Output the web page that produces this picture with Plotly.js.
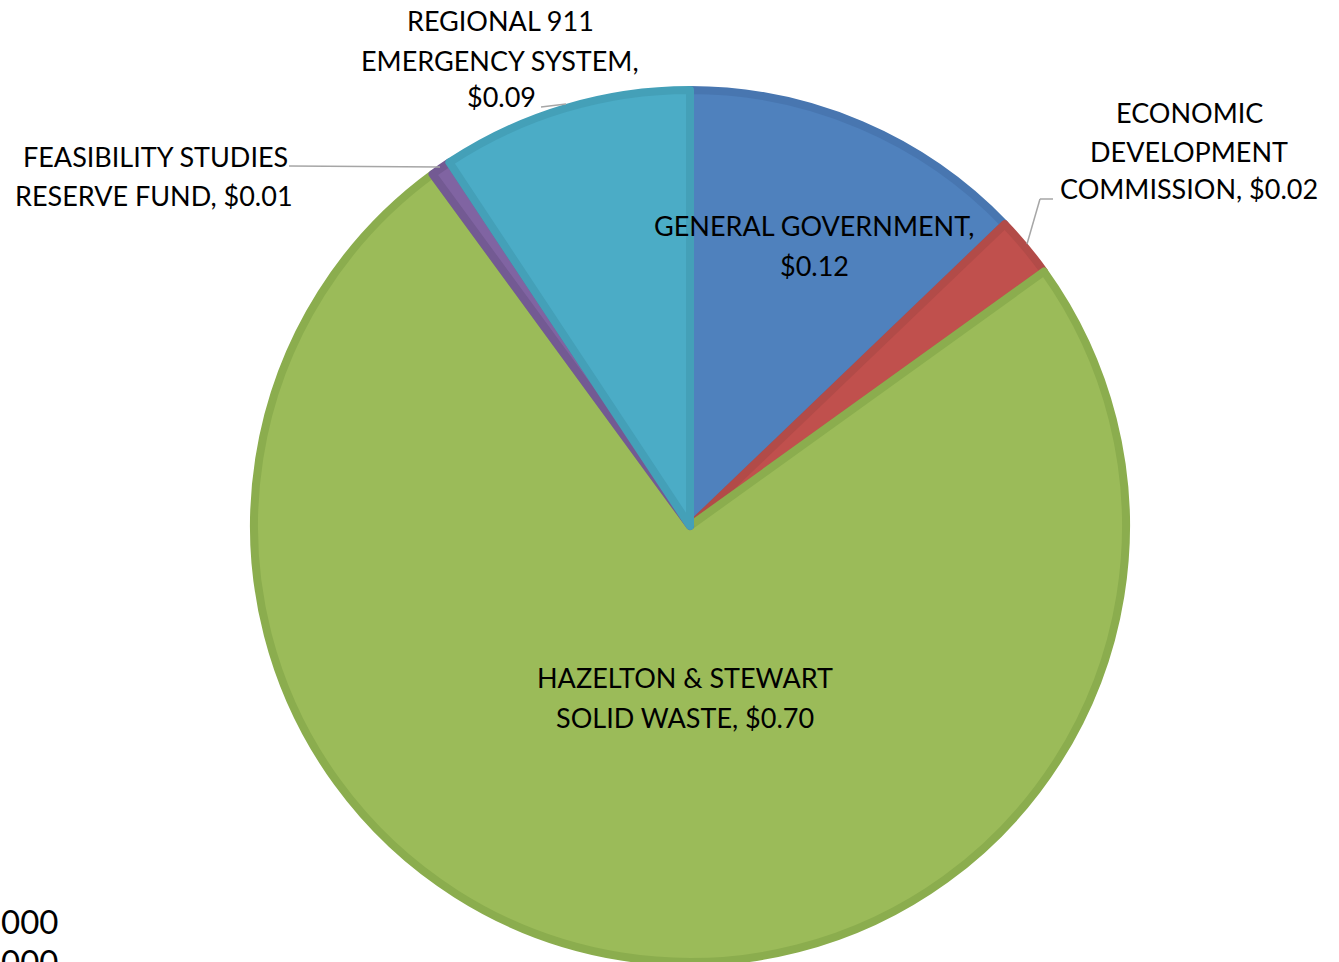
<!DOCTYPE html>
<html>
<head>
<meta charset="utf-8">
<script src="https://cdn.plot.ly/plotly-3.0.1.min.js"></script>
<style>html,body{margin:0;padding:0;background:#fff;}#chart{width:1339px;height:962px;}</style>
</head>
<body>
<div id="chart"></div>
<script>
// Data
var categories = ["GENERAL GOVERNMENT", "ECONOMIC DEVELOPMENT COMMISSION", "HAZELTON & STEWART SOLID WASTE", "FEASIBILITY STUDIES RESERVE FUND", "REGIONAL 911 EMERGENCY SYSTEM"];
var values = [0.12, 0.021, 0.70, 0.007, 0.087];
var valueLabels = ["$0.12", "$0.02", "$0.70", "$0.01", "$0.09"];
var sliceColors = ["#4F81BD", "#C0504D", "#9BBB59", "#8064A2", "#4BACC6"];
var borderColors = ["#4876B0", "#B24B48", "#8BAD4E", "#735A93", "#44A0B8"];

var W = 1339, H = 962;
var cx = 690, cy = 526, R = 436;

var trace = {
  type: "pie",
  labels: categories,
  values: values,
  sort: false,
  direction: "clockwise",
  rotation: 0,
  textinfo: "none",
  hoverinfo: "label+value",
  marker: {colors: sliceColors, line: {color: borderColors, width: 8}},
  domain: {x: [(cx - R) / W, (cx + R) / W], y: [(H - cy - R) / H, (H - cy + R) / H]},
  showlegend: false
};

// label lines: [text, x, y] in pixels (center)
var labelLines = [
  ["REGIONAL 911", 500, 20], ["EMERGENCY SYSTEM,", 500, 60], ["$0.09", 501, 97],
  ["FEASIBILITY STUDIES", 155, 156], ["RESERVE FUND, $0.01", 154, 195],
  ["ECONOMIC", 1189, 112], ["DEVELOPMENT", 1189, 151], ["COMMISSION, $0.02", 1189, 189],
  ["GENERAL GOVERNMENT,", 814, 225], ["$0.12", 814, 265],
  ["HAZELTON & STEWART", 685, 677], ["SOLID WASTE, $0.70", 685, 717]
];
var font = {family: "Lato, 'Open Sans', sans-serif", size: 27, color: "#000"};
var annotations = labelLines.map(function (l) {
  return {text: l[0], x: l[1] / W, y: 1 - l[2] / H, xref: "paper", yref: "paper",
    xanchor: "center", yanchor: "middle", showarrow: false, font: font};
});
// stray axis-like text at the bottom left
var strayLines = [["000", 921], ["000", 961]];
strayLines.forEach(function (s) {
  annotations.push({text: s[0], x: -1 / W, y: 1 - s[1] / H, xref: "paper", yref: "paper",
    xanchor: "left", yanchor: "middle", showarrow: false,
    font: {family: "Lato, 'Open Sans', sans-serif", size: 33, color: "#000"}});
});

function seg(x0, y0, x1, y1) {
  return {type: "line", xref: "paper", yref: "paper", x0: x0 / W, y0: 1 - y0 / H, x1: x1 / W, y1: 1 - y1 / H,
    line: {color: "#A6A6A6", width: 1.5}};
}
var shapes = [
  seg(289, 166, 440, 167),
  seg(541, 107, 566, 104),
  seg(1053, 199, 1040, 199),
  seg(1040, 199, 1027, 244)
];

var layout = {
  width: W, height: H,
  margin: {l: 0, r: 0, t: 0, b: 0},
  paper_bgcolor: "#fff",
  annotations: annotations,
  shapes: shapes
};
Plotly.newPlot("chart", [trace], layout, {displayModeBar: false, staticPlot: true});
</script>
</body>
</html>
